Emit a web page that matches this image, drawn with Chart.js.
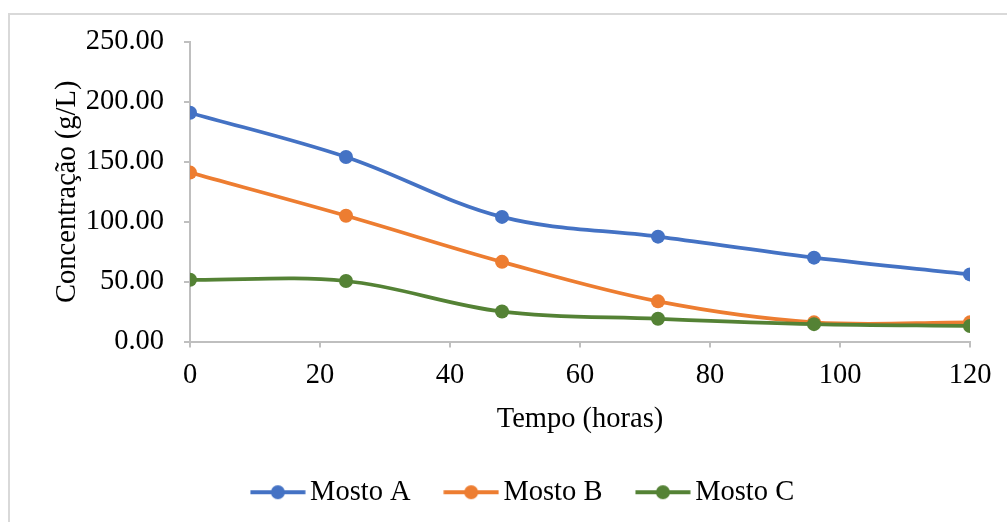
<!DOCTYPE html>
<html>
<head>
<meta charset="utf-8">
<script src="https://cdn.jsdelivr.net/npm/chart.js@4"></script>
<style>
  html, body { margin: 0; padding: 0; background: #fff; }
  #wrap { width: 1007px; height: 522px; position: relative; }
</style>
</head>
<body>
<div id="wrap"><canvas id="grafico"></canvas></div>
<script>
const horas = [0, 24, 48, 72, 96, 120];
const mostoA = [191, 154, 104, 87.5, 70, 56];
const mostoB = [141, 105, 66.5, 33.5, 16, 16];
const mostoC = [51.5, 50.5, 25, 19, 14.5, 13];
const nomes = ['Mosto A', 'Mosto B', 'Mosto C'];
const cores = ['#4472C4', '#ED7D31', '#548235'];

const fonte = 'Liberation Serif, Times New Roman, serif';
const tam = 28.5;

function pontos(valores) {
  return horas.map((h, i) => ({ x: h, y: valores[i] }))
}

// line + dot image for the legend
function iconeLegenda(cor) {
  const c = document.createElement('canvas');
  c.width = 56; c.height = 16;
  const ctx = c.getContext('2d');
  ctx.strokeStyle = cor;
  ctx.lineWidth = 4;
  ctx.beginPath();
  ctx.moveTo(0.5, 8); ctx.lineTo(55.5, 8);
  ctx.stroke();
  ctx.fillStyle = cor;
  ctx.beginPath();
  ctx.arc(28, 8, 7, 0, Math.PI * 2);
  ctx.fill();
  return c;
}

const moldura = {
  id: 'moldura',
  beforeDraw(chart) {
    const ctx = chart.ctx;
    ctx.save();
    ctx.fillStyle = '#fff';
    ctx.fillRect(0, 0, chart.width, chart.height);
    ctx.strokeStyle = '#d9d9d9';
    ctx.lineWidth = 2;
    ctx.beginPath();
    ctx.moveTo(9, chart.height + 5);
    ctx.lineTo(9, 14);
    ctx.lineTo(chart.width + 5, 14);
    ctx.stroke();
    ctx.restore();
  }
};

// nudge the legend a little to the right, like the original
const deslocaLegenda = {
  id: 'deslocaLegenda',
  afterLayout(chart) {
    chart.legend.left += 22;
    chart.legend.right += 22;
  }
};

const series = [mostoA, mostoB, mostoC];
const data = {
  datasets: series.map((s, i) => ({
    label: nomes[i],
    data: pontos(s),
    borderColor: cores[i],
    backgroundColor: cores[i],
    borderWidth: 3.75,
    pointRadius: 7,
    pointBorderWidth: 0,
    pointBackgroundColor: cores[i],
    tension: 0.35,
    order: 3 - i
  }))
};

const config = {
  type: 'line',
  data: data,
  plugins: [moldura, deslocaLegenda],
  options: {
    responsive: true,
    maintainAspectRatio: false,
    animation: false,
    layout: {
      padding: { left: 40, right: 37, top: 42, bottom: 5.5 }
    },
    scales: {
      x: {
        type: 'linear',
        min: 0,
        max: 120,
        ticks: {
          stepSize: 20,
          color: '#000',
          padding: 11,
          font: { family: fonte, size: tam }
        },
        grid: {
          drawOnChartArea: false,
          drawTicks: true,
          tickLength: 6,
          color: '#bfbfbf',
          lineWidth: 2
        },
        border: { color: '#bfbfbf', width: 2 },
        title: {
          display: true,
          text: 'Tempo (horas)',
          color: '#000',
          font: { family: fonte, size: tam, lineHeight: 1 },
          padding: { top: 8, bottom: 2 }
        },
        afterFit: (scale) => { scale.height = 94 }
      },
      y: {
        min: 0,
        max: 250,
        ticks: {
          stepSize: 50,
          color: '#000',
          padding: 20,
          font: { family: fonte, size: tam },
          callback: (v) => Number(v).toFixed(2)
        },
        grid: {
          drawOnChartArea: false,
          drawTicks: true,
          tickLength: 6,
          color: '#bfbfbf',
          lineWidth: 2
        },
        border: { color: '#bfbfbf', width: 2 },
        title: {
          display: true,
          text: 'Concentração (g/L)',
          color: '#000',
          font: { family: fonte, size: tam },
          padding: { top: 10, bottom: 0 }
        },
        afterFit: (scale) => { scale.width = 150 }
      }
    },
    plugins: {
      tooltip: { enabled: false },
      legend: {
        position: 'bottom',
        labels: {
          usePointStyle: true,
          pointStyleWidth: 36,
          padding: 42.5,
          color: '#000',
          font: { family: fonte, size: tam },
          sort: (a, b) => a.datasetIndex - b.datasetIndex,
          generateLabels: (chart) => chart.data.datasets.map((ds, i) => ({
            text: ds.label,
            pointStyle: iconeLegenda(cores[i]),
            fillStyle: cores[i],
            strokeStyle: cores[i],
            lineWidth: 0,
            hidden: false,
            datasetIndex: i
          }))
        }
      }
    }
  }
};

new Chart(document.getElementById('grafico'), config);
</script>
</body>
</html>
